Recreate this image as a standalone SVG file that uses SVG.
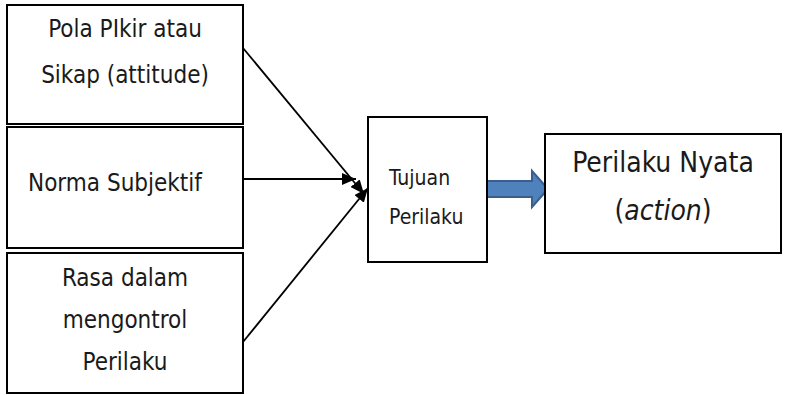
<svg xmlns="http://www.w3.org/2000/svg" width="785" height="395" viewBox="0 0 785 395">
<style>
.box{fill:#fff;stroke:#000;stroke-width:2}
.t{font-family:"DejaVu Sans Condensed","DejaVu Sans",sans-serif;font-stretch:condensed;fill:#1a1a1a}
.c{text-anchor:middle}
.ln{stroke:#000;stroke-width:1.8;fill:none}
</style>
<defs>
<marker id="ah" viewBox="0 0 14 12" refX="14" refY="6" markerWidth="14" markerHeight="12" markerUnits="userSpaceOnUse" orient="auto">
<path d="M0,0 L14,6 L0,12 Z" fill="#000"/>
</marker>
</defs>
<rect width="785" height="395" fill="#fff"/>
<g id="connectors">
<line class="ln" x1="243" y1="48" x2="364" y2="194" marker-end="url(#ah)"/>
<line class="ln" x1="243" y1="179" x2="356" y2="179" marker-end="url(#ah)"/>
<line class="ln" x1="243" y1="342" x2="368" y2="188" marker-end="url(#ah)"/>
<path d="M485,181 L532,181 L532,171 L548,189 L532,207 L532,197 L485,197 Z" fill="#4f81bd" stroke="#3a5f8f" stroke-width="2"/>
</g>
<g id="sikap">
<rect class="box" x="7" y="5" width="236" height="119"/>
<text class="t c" x="125" y="37" font-size="24">Pola PIkir atau</text>
<text class="t c" x="125" y="83" font-size="24">Sikap (attitude)</text>
</g>
<g id="norma">
<rect class="box" x="7" y="127" width="236" height="121"/>
<text class="t" x="28" y="191" font-size="24">Norma Subjektif</text>
</g>
<g id="rasa">
<rect class="box" x="7" y="253" width="236" height="140"/>
<text class="t c" x="125" y="286" font-size="24">Rasa dalam</text>
<text class="t c" x="125" y="328" font-size="24">mengontrol</text>
<text class="t c" x="125" y="370" font-size="24">Perilaku</text>
</g>
<g id="tujuan">
<rect class="box" x="368" y="117" width="119" height="145"/>
<text class="t" x="389" y="185" font-size="21">Tujuan</text>
<text class="t" x="389" y="224" font-size="21">Perilaku</text>
</g>
<g id="action">
<rect class="box" x="545" y="134" width="236" height="119"/>
<text class="t c" x="663" y="172" font-size="28">Perilaku Nyata</text>
<text class="t c" x="663" y="220" font-size="28">(<tspan font-style="italic">action</tspan>)</text>
</g>
</svg>
